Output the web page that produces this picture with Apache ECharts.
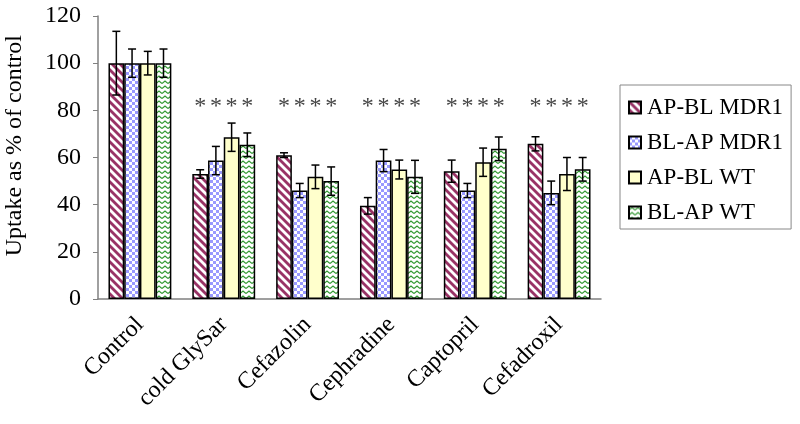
<!DOCTYPE html>
<html><head><meta charset="utf-8">
<script src="https://cdn.jsdelivr.net/npm/echarts@6/dist/echarts.min.js"></script>
<style>html,body{margin:0;padding:0;background:#fff}#c{width:800px;height:424px}</style>
</head><body><div id="c"></div>
<script>
const categories = ['Control', 'cold GlySar', 'Cefazolin', 'Cephradine', 'Captopril', 'Cefadroxil'];
const seriesNames = ['AP-BL MDR1', 'BL-AP MDR1', 'AP-BL WT', 'BL-AP WT'];
const apblMdr1 = [100, 53, 61, 39.5, 54.2, 65.8];
const blapMdr1 = [100, 58.7, 46, 58.7, 46, 45];
const apblWt   = [100, 68.6, 51.8, 54.9, 58, 53];
const blapWt   = [100, 65.4, 50, 51.8, 63.7, 55];
const errApblMdr1 = [13.5, 1.8, 1, 3.5, 4.7, 3];
const errBlapMdr1 = [6, 6, 3, 4.7, 3, 5];
const errApblWt   = [5, 6, 5, 4, 6, 7];
const errBlapWt   = [6, 5, 6, 7, 5, 5];
const starFlags = [0, 1, 1, 1, 1, 1];
const starLevel = 81.5;
const yTicks = [0, 20, 40, 60, 80, 100, 120];

const FONT = '"Liberation Serif", "Times New Roman", serif';

function makePattern(kind) {
  const c = document.createElement('canvas');
  const ctx = c.getContext('2d');
  if (kind === 'stripe') {
    c.width = 8; c.height = 8;
    ctx.fillStyle = '#fff'; ctx.fillRect(0, 0, 8, 8);
    ctx.strokeStyle = '#993366'; ctx.lineWidth = 2.8;
    for (let k = -1; k <= 1; k++) {
      ctx.beginPath(); ctx.moveTo(-2 + k * 8, -2); ctx.lineTo(10 + k * 8, 10); ctx.stroke();
    }
  } else if (kind === 'checker') {
    c.width = 6; c.height = 6;
    ctx.fillStyle = '#fff'; ctx.fillRect(0, 0, 6, 6);
    ctx.fillStyle = '#9999ff';
    ctx.fillRect(0, 0, 3, 3); ctx.fillRect(3, 3, 3, 3);
  } else if (kind === 'zigzag') {
    c.width = 6; c.height = 5;
    ctx.fillStyle = '#fff'; ctx.fillRect(0, 0, 6, 5);
    ctx.strokeStyle = '#339933'; ctx.lineWidth = 1.2;
    ctx.beginPath(); ctx.moveTo(0, 3.5); ctx.lineTo(3, 1); ctx.lineTo(6, 3.5); ctx.stroke();
  }
  return { image: c, repeat: 'repeat' };
}

const fills = [makePattern('stripe'), makePattern('checker'), '#ffffcc', makePattern('zigzag')];
const values = [apblMdr1, blapMdr1, apblWt, blapWt];
const errs = [errApblMdr1, errBlapMdr1, errApblWt, errBlapWt];
const GAP = 0.25;

const series = [];
values.forEach((vals, si) => {
  series.push({
    name: seriesNames[si], type: 'bar', data: vals,
    barGap: '0%', barCategoryGap: (GAP * 100) + '%',
    itemStyle: { color: fills[si], borderColor: '#000', borderWidth: 1.5 },
    z: 2
  });
});
values.forEach((vals, si) => {
  series.push({
    type: 'custom', z: 5, silent: true,
    data: vals.map((v, i) => [i, v - errs[si][i], v + errs[si][i]]),
    encode: { x: 0, y: [1, 2] },
    renderItem: function (params, api) {
      const cat = api.value(0);
      const bw = api.size([1, 0])[0] * (1 - GAP) / 4;
      const x = api.coord([cat, 0])[0] + (si - 1.5) * bw;
      const lo = api.coord([cat, api.value(1)])[1];
      const hi = api.coord([cat, api.value(2)])[1];
      const cap = 4;
      const st = { stroke: '#000', lineWidth: 1.5 };
      return { type: 'group', children: [
        { type: 'line', shape: { x1: x, y1: lo, x2: x, y2: hi }, style: st },
        { type: 'line', shape: { x1: x - cap, y1: lo, x2: x + cap, y2: lo }, style: st },
        { type: 'line', shape: { x1: x - cap, y1: hi, x2: x + cap, y2: hi }, style: st }
      ]};
    }
  });
});
series.push({
  type: 'custom', z: 5, silent: true,
  data: starFlags.map((f, i) => [i, starLevel, f]),
  encode: { x: 0, y: 1 },
  renderItem: function (params, api) {
    if (!api.value(2)) return null;
    const cat = api.value(0);
    const bw = api.size([1, 0])[0] * (1 - GAP) / 4;
    const cx = api.coord([cat, api.value(1)]);
    const children = [];
    for (let k = 0; k < 4; k++) {
      children.push({ type: 'text', style: {
        x: cx[0] + (k - 1.5) * bw, y: cx[1], text: '*',
        font: '24px ' + FONT, fill: '#444', align: 'center', verticalAlign: 'middle'
      }});
    }
    return { type: 'group', children };
  }
});

const chart = echarts.init(document.getElementById('c'), null, { renderer: 'canvas' });
chart.setOption({
  backgroundColor: '#fff',
  animation: false,
  grid: { left: 98, right: 199, top: 16, bottom: 125, containLabel: false },
  legend: {
    data: seriesNames, orient: 'vertical', left: 620, top: 85,
    borderColor: '#888', borderWidth: 1, borderRadius: 0,
    padding: [11, 8, 5, 8], itemGap: 12,
    itemWidth: 12, itemHeight: 12,
    icon: 'rect',
    textStyle: { fontFamily: FONT, fontSize: 23, color: '#000', padding: [0, 0, 0, 1] }
  },
  xAxis: {
    type: 'category', data: categories,
    axisLine: { lineStyle: { color: '#808080', width: 1.5 } },
    axisTick: { alignWithLabel: false, length: 6, lineStyle: { color: '#808080' } },
    axisLabel: { rotate: 45, fontFamily: FONT, fontSize: 24, color: '#000', margin: 22, interval: 0 }
  },
  yAxis: {
    type: 'value', min: 0, max: 120, interval: 20,
    axisLine: { show: true, lineStyle: { color: '#808080', width: 1.5 } },
    axisTick: { show: true, length: 5, lineStyle: { color: '#808080' } },
    splitLine: { show: false },
    axisLabel: { fontFamily: FONT, fontSize: 24, color: '#000', margin: 17,
      formatter: v => yTicks.indexOf(v) >= 0 ? String(v) : '' }
  },
  graphic: [{
    type: 'text', left: 3, top: 35, rotation: Math.PI / 2,
    style: { text: 'Uptake as % of control', font: '24px ' + FONT, fill: '#000' }
  }],
  series
});
</script></body></html>
